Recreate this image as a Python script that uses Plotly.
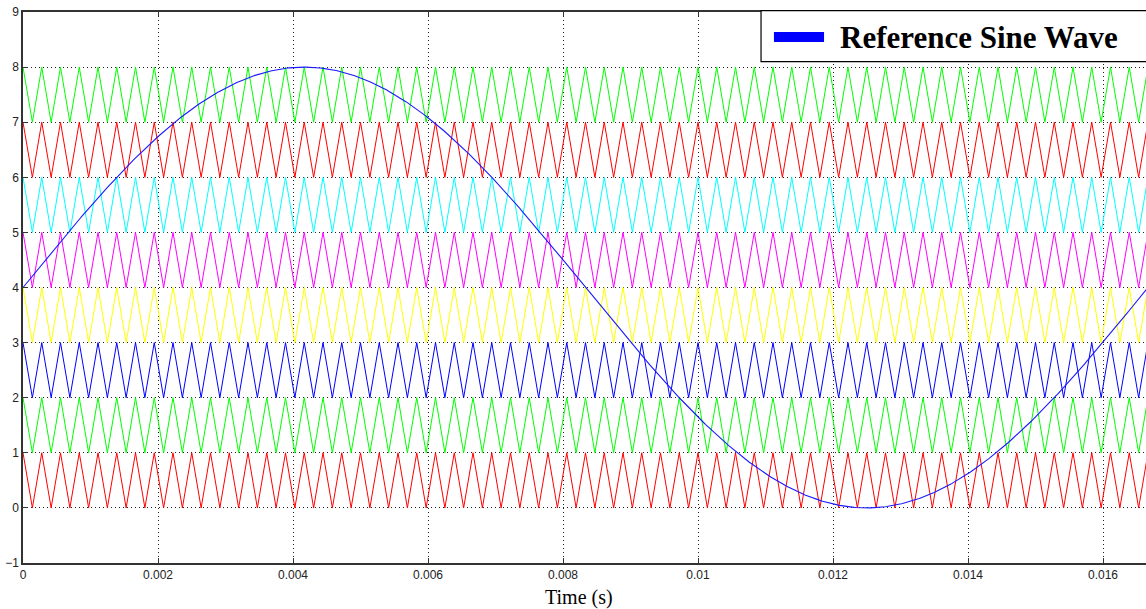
import numpy as np
import plotly.graph_objects as go

# ---- data ----
SINE_FREQ_HZ = 60.0          # reference sine frequency
SINE_OFFSET = 4.0
SINE_AMPLITUDE = 4.0
CARRIER_FREQ_HZ = 3600.0     # triangular carrier frequency
BAND_BOTTOMS = [0, 1, 2, 3, 4, 5, 6, 7]
BAND_COLORS = ["#ff0000", "#00ff00", "#0000ff", "#ffff00",
               "#ff00ff", "#00ffff", "#ff0000", "#00ff00"]
T_END = 1.0 / SINE_FREQ_HZ
X_TICKS = [0, 0.002, 0.004, 0.006, 0.008, 0.01, 0.012, 0.014, 0.016]
X_TICK_LABELS = ["0", "0.002", "0.004", "0.006", "0.008", "0.01", "0.012", "0.014", "0.016"]
Y_TICKS = [-1, 0, 1, 2, 3, 4, 5, 6, 7, 8, 9]
LEGEND_LABEL = "Reference Sine Wave"
X_TITLE = "Time (s)"

fig = go.Figure()

# carriers: vertices every half period, starting at top of band
n_half = int(round(2 * CARRIER_FREQ_HZ * T_END))
t_vert = np.arange(n_half + 1) / (2 * CARRIER_FREQ_HZ)
for bottom, color in zip(BAND_BOTTOMS, BAND_COLORS):
    y_vert = np.where(np.arange(n_half + 1) % 2 == 0, bottom + 1, bottom)
    fig.add_trace(go.Scatter(x=t_vert, y=y_vert, mode="lines",
                             line=dict(color=color, width=1),
                             showlegend=False, hoverinfo="skip"))

# reference sine
t = np.linspace(0, T_END, 1000)
s = SINE_OFFSET + SINE_AMPLITUDE * np.sin(2 * np.pi * SINE_FREQ_HZ * t)
fig.add_trace(go.Scatter(x=t, y=s, mode="lines",
                         line=dict(color="#1a1aff", width=1.1),
                         name=LEGEND_LABEL, showlegend=False))

axis_common = dict(showline=True, linecolor="#333333", linewidth=1.5,
                   ticks="inside", ticklen=5, tickcolor="#333333",
                   showgrid=True, gridcolor="#222222", griddash="1px,3px", gridwidth=1,
                   zeroline=False, automargin=False,
                   tickfont=dict(family="Liberation Sans, Arial", size=12, color="#222222"))

fig.update_xaxes(range=[0, 0.016637], tickvals=X_TICKS, ticktext=X_TICK_LABELS,
                 mirror="ticks", **axis_common)
fig.update_yaxes(range=[-1, 9], tickvals=Y_TICKS, mirror=False, **axis_common)

# x-axis title
fig.add_annotation(xref="paper", yref="paper", x=0.4951, y=-0.0635,
                   xanchor="center", yanchor="middle", showarrow=False,
                   text=X_TITLE,
                   font=dict(family="Liberation Serif, Times New Roman", size=20, color="black"))

# legend box drawn manually (paper coords = plot area)
fig.add_shape(type="rect", xref="paper", yref="paper",
              x0=0.6572, x1=1.01, y0=0.9098, y1=1.0024,
              line=dict(color="black", width=1.2), fillcolor="white", layer="above")
fig.add_shape(type="line", xref="paper", yref="paper",
              x0=0.6687, x1=0.7133, y0=0.9546, y1=0.9546,
              line=dict(color="#0000ff", width=10), layer="above")
fig.add_annotation(xref="paper", yref="paper", x=0.7257, y=0.9546,
                   xanchor="left", yanchor="middle", showarrow=False,
                   text="<b>" + LEGEND_LABEL + "</b>",
                   font=dict(family="Liberation Serif, Times New Roman", size=31, color="black"))

fig.update_layout(width=1146, height=609,
                  margin=dict(l=23, r=0, t=12, b=46),
                  plot_bgcolor="white", paper_bgcolor="white",
                  showlegend=False)

fig.write_html("out.html", config={"displayModeBar": False},
               post_script="document.body.style.margin='0';document.body.style.overflow='hidden';")
